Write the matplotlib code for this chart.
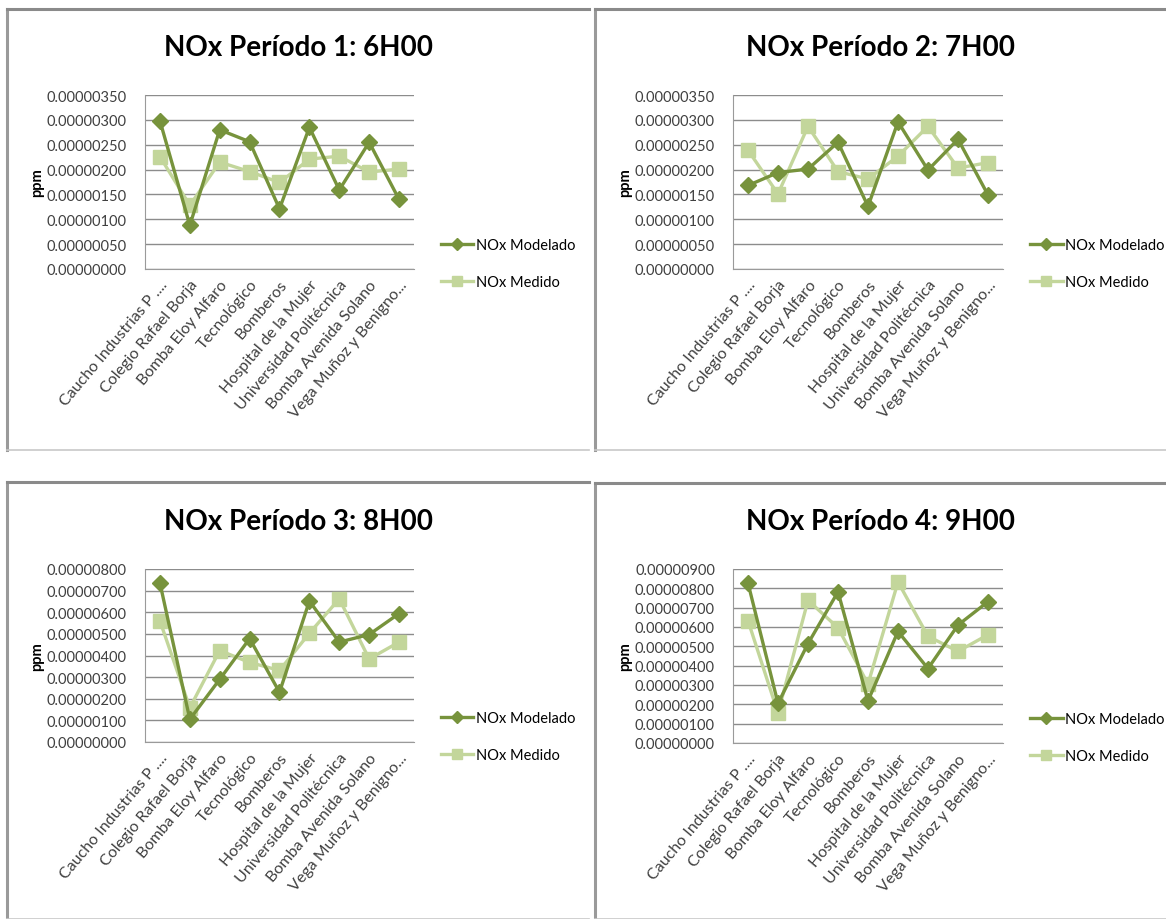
import numpy as np
import matplotlib
matplotlib.use("Agg")
import matplotlib.pyplot as plt
from matplotlib.lines import Line2D

plt.rcParams["font.family"] = ["Lato", "DejaVu Sans"]

W, H = 1166, 920

stations = ["Caucho Industrias P ....", "Colegio Rafael Borja", "Bomba Eloy Alfaro",
            "Tecnológico", "Bomberos", "Hospital de la Mujer",
            "Universidad Politécnica", "Bomba Avenida Solano", "Vega Muñoz y Benigno..."]

titles = ["NOx Período 1: 6H00", "NOx Período 2: 7H00",
          "NOx Período 3: 8H00", "NOx Período 4: 9H00"]

# values in units of 1e-6 ppm
modelado_p1 = [2.98, 0.88, 2.80, 2.56, 1.21, 2.85, 1.59, 2.55, 1.40]
medido_p1 = [2.26, 1.28, 2.15, 1.96, 1.74, 2.21, 2.27, 1.95, 2.01]
modelado_p2 = [1.68, 1.94, 2.01, 2.55, 1.26, 2.96, 1.99, 2.61, 1.49]
medido_p2 = [2.39, 1.51, 2.87, 1.96, 1.81, 2.27, 2.87, 2.03, 2.14]
modelado_p3 = [7.35, 1.05, 2.90, 4.78, 2.30, 6.52, 4.62, 4.97, 5.94]
medido_p3 = [5.60, 1.58, 4.23, 3.68, 3.31, 5.03, 6.62, 3.84, 4.62]
modelado_p4 = [8.27, 2.05, 5.14, 7.82, 2.18, 5.77, 3.85, 6.10, 7.31]
medido_p4 = [6.33, 1.55, 7.38, 5.96, 3.05, 8.33, 5.52, 4.74, 5.60]

ymax = [3.5, 3.5, 8.0, 9.0]
ystep = [0.5, 0.5, 1.0, 1.0]

dark_green = "#77933C"
light_green = "#C3D69B"

# panel boxes (left, top, right, bottom) in pixels, plot area inside each
panels = [(7, 10, 589, 451), (595, 10, 1166, 451),
          (7, 483, 589, 920), (595, 484, 1166, 920)]
areas = [(145, 96, 414, 270), (733, 96, 1003, 270),
         (145, 570, 414, 743), (733, 570, 1003, 744)]

fig = plt.figure(figsize=(W / 100, H / 100), dpi=100)


def fx(x):
    return x / W


def fy(y):
    return 1 - y / H


data = [(modelado_p1, medido_p1), (modelado_p2, medido_p2),
        (modelado_p3, medido_p3), (modelado_p4, medido_p4)]

for i in range(4):
    pl, pt, pr, pb = panels[i]
    # panel border
    fig.add_artist(Line2D([fx(pl), fx(pl)], [fy(pt), fy(pb)], color="#9a9a9a", lw=2.2))
    fig.add_artist(Line2D([fx(pl), fx(pr)], [fy(pt), fy(pt)], color="#8a8a8a", lw=2.2))
    fig.add_artist(Line2D([fx(pl), fx(pr)], [fy(pb), fy(pb)], color="#c8c8c8", lw=1.2))

    l, t, r, b = areas[i]
    ax = fig.add_axes([fx(l), fy(b), fx(r - l), (b - t) / H])
    mod, med = data[i]
    x = np.arange(len(stations))
    scale = 1e-6
    ax.plot(x, np.array(mod) * scale, color=dark_green, lw=2.4, marker="D",
            ms=8, label="NOx Modelado", zorder=4)
    ax.plot(x, np.array(med) * scale, color=light_green, lw=2.4, marker="s",
            ms=10, label="NOx Medido", zorder=3)

    ax.set_xlim(-0.5, len(stations) - 0.5)
    ax.set_ylim(0, ymax[i] * scale)
    ticks = np.arange(0, ymax[i] + ystep[i] / 2, ystep[i]) * scale
    ax.set_yticks(ticks)
    ax.set_yticklabels([f"{v:.8f}" for v in ticks], fontsize=10.5, color="#404040")
    ax.set_xticks(x)
    ax.set_xticklabels(stations, rotation=50, ha="right", va="top",
                       rotation_mode="anchor", fontsize=11.5, color="#404040")
    ax.tick_params(axis="y", length=0, pad=13)
    ax.tick_params(axis="x", length=0, pad=6)
    ax.grid(axis="y", color="#8c8c8c", lw=1)
    ax.set_axisbelow(True)
    for s in ["top", "right"]:
        ax.spines[s].set_visible(False)
    ax.spines["left"].set_color("#9a9a9a")
    ax.spines["bottom"].set_color("#9a9a9a")
    ax.set_ylabel("ppm", fontsize=10.5, fontweight="bold", labelpad=2)

    ax.legend(loc="center left", bbox_to_anchor=(1.08, 0.03), frameon=False,
              fontsize=10.5, handlelength=2.2, handletextpad=0.2,
              labelspacing=1.6, borderaxespad=0, markerscale=0.75)

    fig.text(fx((pl + pr) / 2), fy(t - 48), titles[i], ha="center", va="center",
             fontsize=20, fontweight="bold", color="#000000")

plt.savefig("out.png", dpi=100)
plt.close()
